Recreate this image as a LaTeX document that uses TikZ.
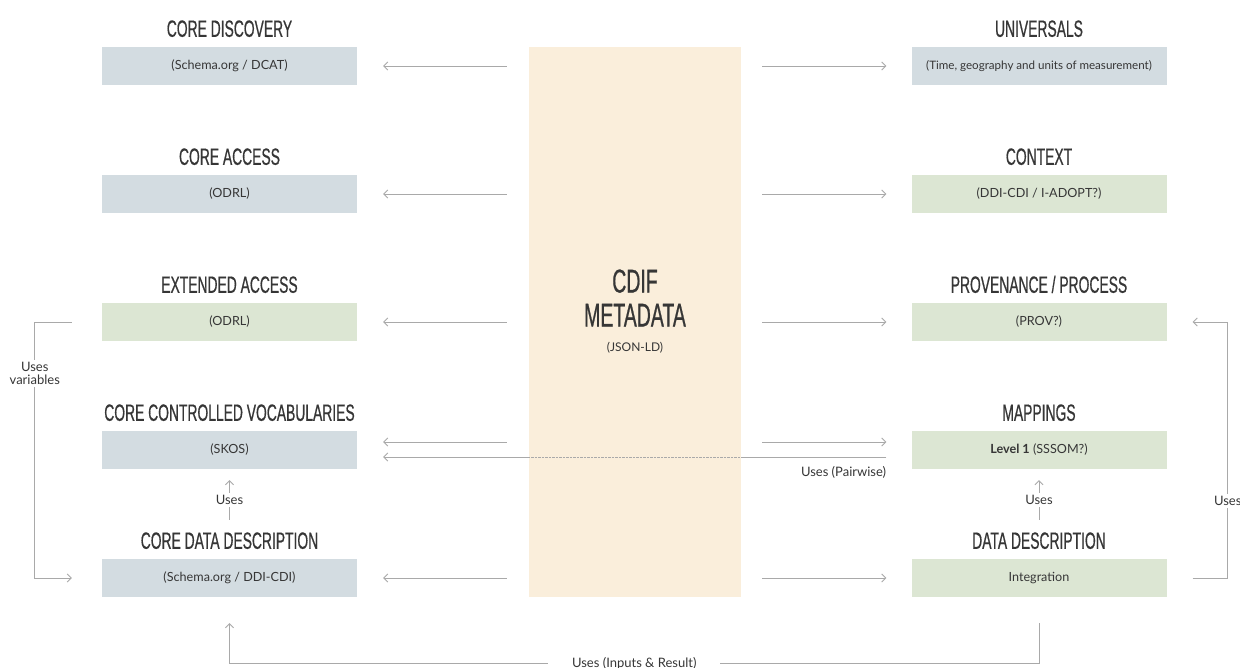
\documentclass[tikz,border=0pt]{standalone}
\usepackage{fontspec}
\setmainfont{Lato}
\newfontfamily\headfont[FakeStretch=0.59,FakeBold=0.6]{Liberation Sans}
\usetikzlibrary{arrows.meta,calc}

\definecolor{boxgray}{HTML}{D3DCE1}
\definecolor{boxgreen}{HTML}{DCE6D3}
\definecolor{corefill}{HTML}{FAEEDB}
\definecolor{ink}{HTML}{363636}
\definecolor{wirecol}{HTML}{A9A9A9}

\tikzset{
  box/.style={minimum width=255pt, minimum height=38pt, inner sep=0pt,
    font=\fontsize{12.6}{15}\selectfont, text=ink},
  graybox/.style={box, fill=boxgray},
  greenbox/.style={box, fill=boxgreen},
  head/.style={font=\headfont\fontsize{23.5}{26}\selectfont, text=ink, anchor=base},
  wire/.style={draw=wirecol, line width=0.8pt},
  conn/.style={wire, -{Straight Barb[length=4pt,width=8pt]}},
  lbl/.style={font=\fontsize{13}{13.5}\selectfont, text=ink, fill=white, inner sep=2pt},
}

\begin{document}
\begin{tikzpicture}[x=1pt,y=-1pt]
\useasboundingbox[fill=white] (0,0) rectangle (1240,668);

% central metadata block
\node[fill=corefill, minimum width=212pt, minimum height=550pt, inner sep=0pt] (cdif) at (635,322) {};
\node[font=\headfont\fontsize{33}{34}\selectfont, text=ink, align=center] (cdiftitle) at (635,298) {CDIF\\METADATA};
\node[font=\fontsize{12}{13}\selectfont, text=ink] (cdifsub) at (635,348) {(JSON-LD)};

% left column
\node[graybox]  (cd)  at (229.5,66)  {(Schema.org / DCAT)};
\node[graybox]  (ca)  at (229.5,194) {(ODRL)};
\node[greenbox] (ea)  at (229.5,322) {(ODRL)};
\node[graybox]  (ccv) at (229.5,450) {(SKOS)};
\node[graybox]  (cdd) at (229.5,578) {(Schema.org / DDI-CDI)};

% right column
\node[graybox, font=\fontsize{11.6}{14}\selectfont]  (uni) at (1039,66)  {(Time, geography and units of measurement)};
\node[greenbox] (ctx) at (1039,194) {(DDI-CDI / I-ADOPT?)};
\node[greenbox] (prov) at (1039,322) {(PROV?)};
\node[greenbox] (map) at (1039,450) {\textbf{Level 1} (SSSOM?)};
\node[greenbox] (dd)  at (1039,578) {Integration};

% headings
\node[head] (hcd)  at ([yshift=10pt]cd.north)  {CORE DISCOVERY};
\node[head] (hca)  at ([yshift=10pt]ca.north)  {CORE ACCESS};
\node[head] (hea)  at ([yshift=10pt]ea.north)  {EXTENDED ACCESS};
\node[head] (hccv) at ([yshift=10pt]ccv.north) {CORE CONTROLLED VOCABULARIES};
\node[head] (hcdd) at ([yshift=10pt]cdd.north) {CORE DATA DESCRIPTION};
\node[head] (huni) at ([yshift=10pt]uni.north) {UNIVERSALS};
\node[head] (hctx) at ([yshift=10pt]ctx.north) {CONTEXT};
\node[head] (hprov) at ([yshift=10pt]prov.north) {PROVENANCE / PROCESS};
\node[head] (hmap) at ([yshift=10pt]map.north) {MAPPINGS};
\node[head] (hdd)  at ([yshift=10pt]dd.north)  {DATA DESCRIPTION};

% arrows out of the central block
\foreach \n in {cd,ca,ea,cdd}
  \draw[conn] ([xshift=-22pt]cdif.west |- \n.east) -- ([xshift=26pt]\n.east);
\foreach \n in {uni,ctx,prov,dd}
  \draw[conn] ([xshift=21pt]cdif.east |- \n.west) -- ([xshift=-25pt]\n.west);
\draw[conn] ([xshift=-22pt,yshift=8pt]cdif.west |- ccv.east) -- ([xshift=26pt,yshift=8pt]ccv.east);
\draw[conn] ([xshift=21pt,yshift=8pt]cdif.east |- map.west) -- ([xshift=-25pt,yshift=8pt]map.west);

% pairwise link from mappings to vocabularies, crossing the central block
\coordinate (pw1) at ([xshift=-25pt,yshift=-7pt]map.west);
\coordinate (pw2) at ([xshift=26pt,yshift=-7pt]ccv.east);
\draw[wire] (pw1) -- (cdif.east |- pw1);
\draw[wire, line width=0.6pt, dash pattern=on 0.7pt off 0.7pt] (cdif.east |- pw1) -- (cdif.west |- pw1);
\draw[conn] (cdif.west |- pw1) -- (pw2);
\node[font=\fontsize{13}{13.5}\selectfont, text=ink, anchor=east, inner sep=0pt] (pwl) at ([yshift=-15pt]pw1) {Uses (Pairwise)};

% vertical "Uses" links
\draw[conn] ([yshift=39pt]cdd.north) -- node[lbl] {Uses} ([yshift=-11pt]ccv.south);
\draw[conn] ([yshift=39pt]dd.north) -- node[lbl] {Uses} ([yshift=-11pt]map.south);

% loop on the left
\draw[conn] ([xshift=-30pt]ea.west) -- ([xshift=-67pt]ea.west)
  -- node[lbl, pos=0.2, align=center] {Uses\\variables} ([xshift=-67pt]ea.west |- cdd.west)
  -- ([xshift=-30pt]cdd.west);

% loop on the right
\draw[conn] ([xshift=26pt]dd.east) -- ([xshift=61pt]dd.east)
  -- node[lbl, pos=0.3] {Uses} ([xshift=61pt]dd.east |- prov.east)
  -- ([xshift=26pt]prov.east);

% loop along the bottom
\draw[conn] ([yshift=-26pt]dd.south) -- ([yshift=-66pt]dd.south)
  -| node[lbl, pos=0.25, inner xsep=24pt] {Uses (Inputs \& Result)} ([yshift=-26pt]cdd.south);
\end{tikzpicture}
\end{document}
